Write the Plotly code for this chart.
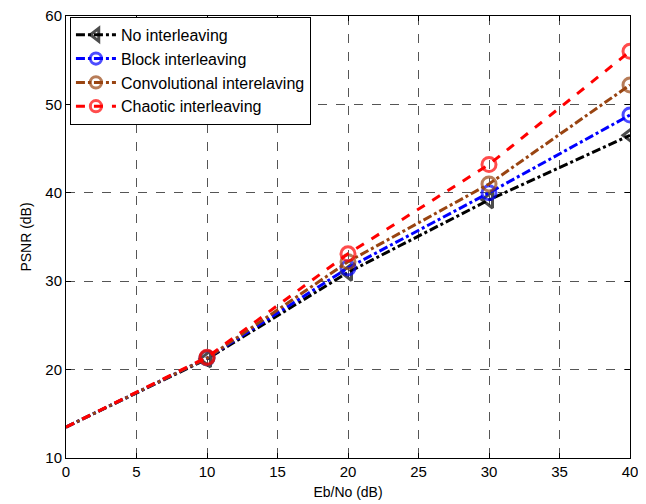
import plotly.graph_objects as go

ebno = [0, 10, 20, 30, 40]
no_inter = [13.5, 21.2, 31.0, 39.2, 46.5]
block_inter = [13.5, 21.3, 31.5, 40.0, 48.8]
conv_inter = [13.5, 21.3, 32.2, 41.0, 52.2]
chaotic_inter = [13.5, 21.4, 33.1, 43.2, 56.0]
names = ["No interleaving", "Block interleaving", "Convolutional interelaving", "Chaotic interleaving"]
x_ticks = [0, 5, 10, 15, 20, 25, 30, 35, 40]
y_ticks = [10, 20, 30, 40, 50, 60]

series = [no_inter, block_inter, conv_inter, chaotic_inter]
colors = ["#000000", "#0000ff", "#994411", "#ff0000"]
dashes = ["dashdot", "dashdot", "dashdot", "dash"]
symbols = ["triangle-left-open", "circle-open", "circle-open", "circle-open"]
msize = [0, 14, 14, 14, 14]

fig = go.Figure()
for ys, nm, c, d, s in zip(series, names, colors, dashes, symbols):
    fig.add_trace(go.Scatter(
        x=ebno, y=ys, name=nm, mode="lines+markers",
        line=dict(color=c, width=3, dash=d),
        marker=dict(symbol=s, size=msize, color=c, line=dict(color=c, width=3)),
    ))

axis_common = dict(
    showline=True, linecolor="black", linewidth=1, mirror="ticks",
    ticks="inside", ticklen=5, tickcolor="black", automargin=False,
    ticklabeloverflow="allow",
    showgrid=True, gridcolor="#555555", griddash="dash", gridwidth=1,
    zeroline=False, tickfont=dict(family="Arial, Liberation Sans", size=15, color="black"),
)
fig.update_xaxes(range=[0, 40], tickvals=x_ticks, title=dict(text="Eb/No (dB)", standoff=8,
                 font=dict(family="Arial, Liberation Sans", size=14, color="black")), **axis_common)
fig.update_yaxes(range=[10, 60], tickvals=y_ticks, title=dict(text="PSNR (dB)", standoff=10,
                 font=dict(family="Arial, Liberation Sans", size=14, color="black")), **axis_common)

fig.update_layout(
    width=646, height=504,
    margin=dict(l=58, r=24, t=8, b=54),
    plot_bgcolor="white", paper_bgcolor="white",
    font=dict(family="Arial, Liberation Sans", size=14, color="black"),
    legend=dict(x=0.007, y=0.998, xanchor="left", yanchor="top",
                bgcolor="white", bordercolor="black", borderwidth=1,
                font=dict(size=16), itemwidth=40, tracegroupgap=0),
    showlegend=True,
)
fig.write_html("out.html")
